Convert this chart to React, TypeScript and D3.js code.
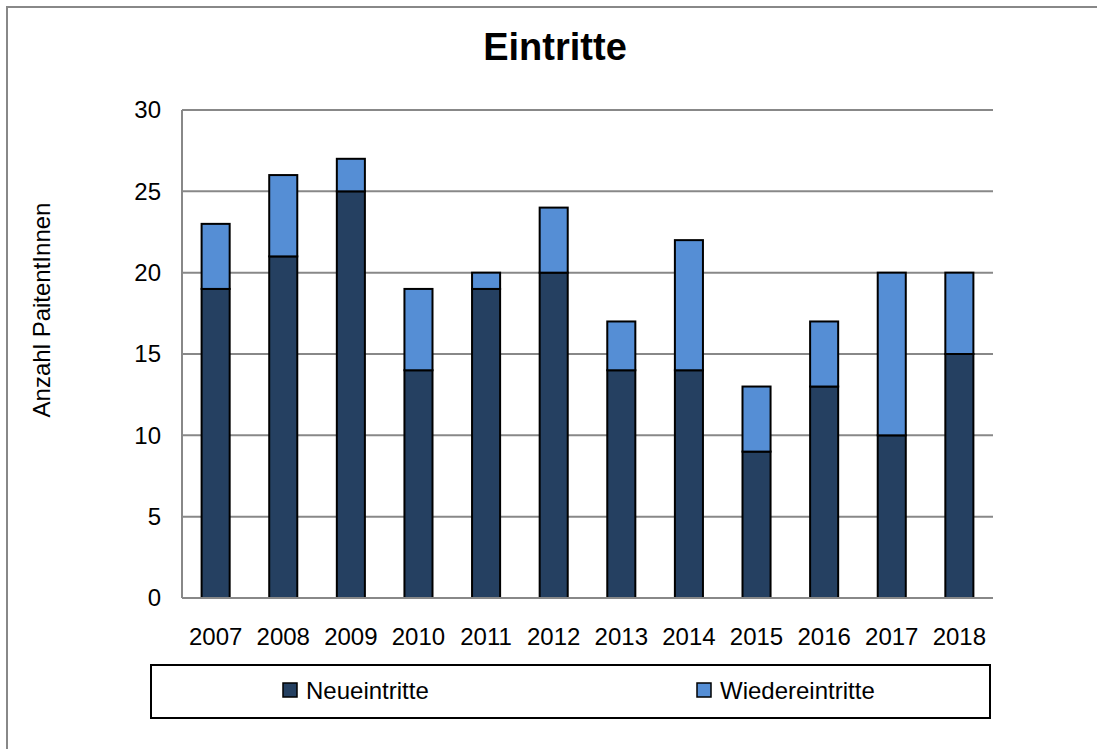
import React, { useEffect, useRef } from "react";
import * as d3 from "d3";

const years = ["2007", "2008", "2009", "2010", "2011", "2012", "2013", "2014", "2015", "2016", "2017", "2018"];
const neueintritte = [19, 21, 25, 14, 19, 20, 14, 14, 9, 13, 10, 15];
const wiedereintritte = [4, 5, 2, 5, 1, 4, 3, 8, 4, 4, 10, 5];
const yTicks = [0, 5, 10, 15, 20, 25, 30];
const seriesNames = ["Neueintritte", "Wiedereintritte"];
const seriesColors = ["#254061", "#558ED5"];

const App = () => {
  const svgRef = useRef<SVGSVGElement>(null);

  useEffect(() => {
    const width = 1097;
    const height = 749;
    const margin = { top: 110, right: 104, bottom: 151, left: 182 };
    const font = "Liberation Sans, Arial, sans-serif";
    const fs = "24px";

    const root = d3.select(svgRef.current);
    root.selectAll("*").remove();
    root.attr("width", width).attr("height", height);

    // outer frame
    root
      .append("path")
      .attr("d", `M7,${height} V7 H${width}`)
      .attr("fill", "none")
      .attr("stroke", "#888")
      .attr("stroke-width", 2);

    // title
    root
      .append("text")
      .attr("x", 555)
      .attr("y", 60)
      .attr("text-anchor", "middle")
      .style("font-family", font)
      .style("font-size", "38px")
      .style("font-weight", "bold")
      .text("Eintritte");

    const x = d3
      .scaleBand()
      .domain(years)
      .range([margin.left, width - margin.right])
      .paddingInner(0.585)
      .paddingOuter(0.29);

    const y = d3
      .scaleLinear()
      .domain([0, 30])
      .range([height - margin.bottom, margin.top]);

    // gridlines
    root
      .append("g")
      .selectAll("line")
      .data(yTicks.filter((t) => t > 0))
      .enter()
      .append("line")
      .attr("x1", margin.left)
      .attr("x2", width - margin.right)
      .attr("y1", (d) => y(d))
      .attr("y2", (d) => y(d))
      .attr("stroke", "#888")
      .attr("stroke-width", 2);

    // y tick labels
    root
      .append("g")
      .selectAll("text")
      .data(yTicks)
      .enter()
      .append("text")
      .attr("x", 161)
      .attr("y", (d) => y(d))
      .attr("dy", "0.35em")
      .attr("text-anchor", "end")
      .style("font-family", font)
      .style("font-size", fs)
      .text((d) => d);

    // y axis title
    root
      .append("text")
      .attr("transform", `translate(50, 310) rotate(-90)`)
      .attr("text-anchor", "middle")
      .style("font-family", font)
      .style("font-size", fs)
      .text("Anzahl PaitentInnen");

    // stacked bars
    const table = years.map((yr, i) => ({
      year: yr,
      Neueintritte: neueintritte[i],
      Wiedereintritte: wiedereintritte[i],
    }));
    const stack = d3.stack<any>().keys(seriesNames)(table);

    root
      .append("g")
      .selectAll("g")
      .data(stack)
      .enter()
      .append("g")
      .attr("fill", (_d, i) => seriesColors[i])
      .selectAll("rect")
      .data((d) => d)
      .enter()
      .append("rect")
      .attr("x", (d: any) => x(d.data.year)!)
      .attr("width", x.bandwidth())
      .attr("y", (d) => y(d[1]))
      .attr("height", (d) => y(d[0]) - y(d[1]))
      .attr("stroke", "#000")
      .attr("stroke-width", 2);

    // axes lines
    root
      .append("line")
      .attr("x1", margin.left)
      .attr("x2", margin.left)
      .attr("y1", y(30))
      .attr("y2", y(0))
      .attr("stroke", "#888")
      .attr("stroke-width", 2);
    root
      .append("line")
      .attr("x1", margin.left)
      .attr("x2", width - margin.right)
      .attr("y1", y(0))
      .attr("y2", y(0))
      .attr("stroke", "#888")
      .attr("stroke-width", 2);

    // x tick labels
    root
      .append("g")
      .selectAll("text")
      .data(years)
      .enter()
      .append("text")
      .attr("x", (d) => x(d)! + x.bandwidth() / 2)
      .attr("y", 645)
      .attr("text-anchor", "middle")
      .style("font-family", font)
      .style("font-size", fs)
      .text((d) => d);

    // legend
    const legend = root.append("g");
    legend
      .append("rect")
      .attr("x", 151)
      .attr("y", 665)
      .attr("width", 839)
      .attr("height", 53)
      .attr("fill", "#fff")
      .attr("stroke", "#000")
      .attr("stroke-width", 2);

    const legendX = [283, 697];
    seriesNames.forEach((name, i) => {
      legend
        .append("rect")
        .attr("x", legendX[i])
        .attr("y", 683)
        .attr("width", 14)
        .attr("height", 14)
        .attr("fill", seriesColors[i])
        .attr("stroke", "#000")
        .attr("stroke-width", 1.5);
      legend
        .append("text")
        .attr("x", legendX[i] + 23)
        .attr("y", 699)
        .style("font-family", font)
        .style("font-size", fs)
        .text(name);
    });
  }, []);

  return (
    <div style={{ position: "absolute", left: 0, top: 0 }}>
      <svg ref={svgRef} style={{ display: "block" }} />
    </div>
  );
};

export default App;
